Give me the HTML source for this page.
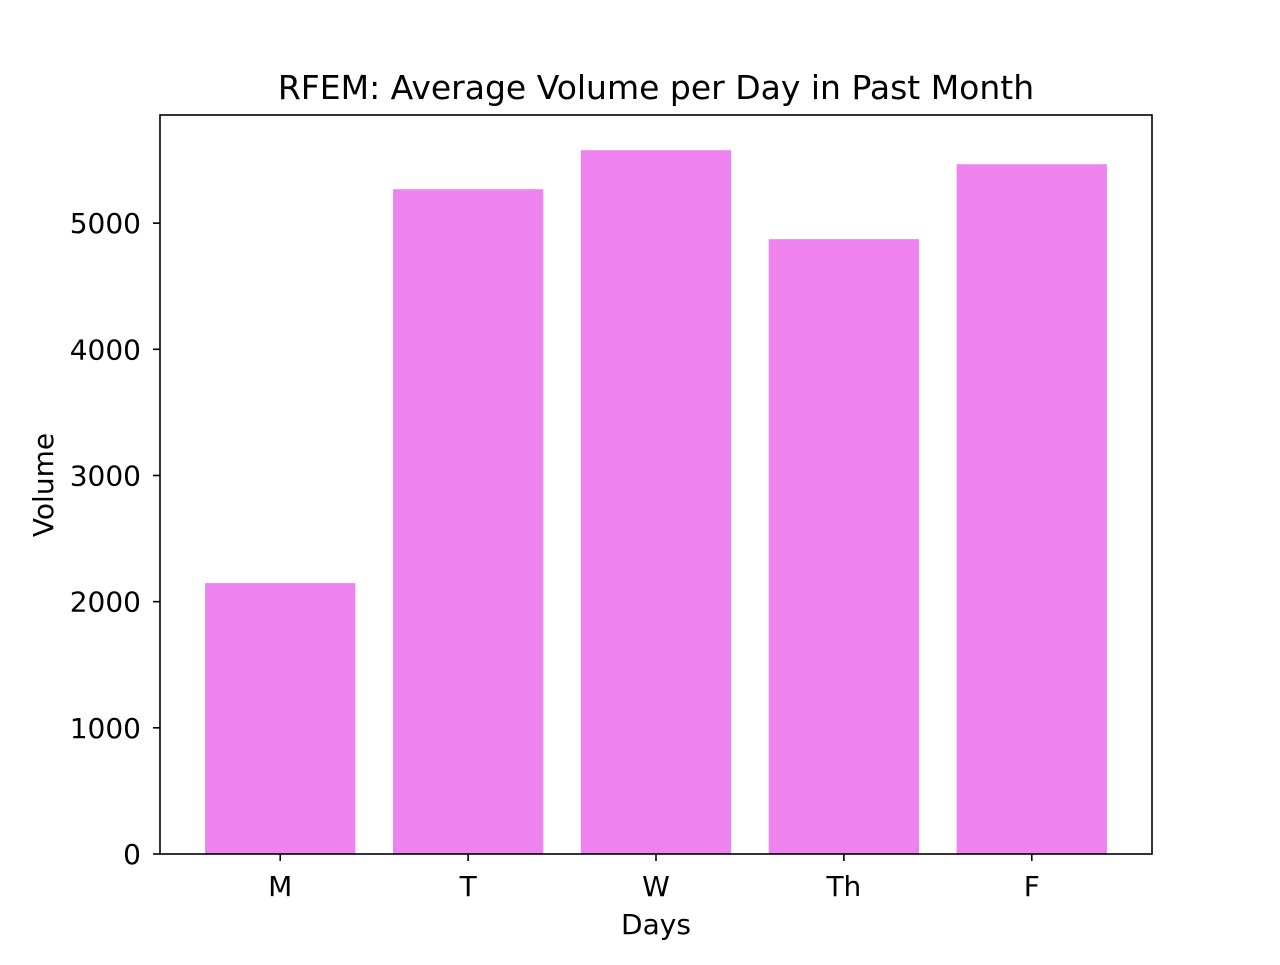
<!DOCTYPE html>
<html><head><meta charset="utf-8"><style>
body{margin:0;background:#fff;}
svg text{font-family:"DejaVu Sans","Liberation Sans",sans-serif;fill:#000;}
</style></head><body>
<svg id="chart" width="1280" height="960" viewBox="0 0 1280 960">
<rect width="1280" height="960" fill="#fff"/>
<text x="656" y="99" font-size="33" text-anchor="middle">RFEM: Average Volume per Day in Past Month</text>
<g id="bars"></g>
<g id="yticks"></g>
<g id="xticks"></g>
<rect x="160" y="115" width="992" height="739" fill="none" stroke="#000" stroke-width="1.6"/>
<text x="656" y="934" font-size="28" text-anchor="middle">Days</text>
<text x="0" y="0" font-size="28" text-anchor="middle" transform="translate(53,485) rotate(-90)">Volume</text>
</svg>
<script>
const categories = ["M","T","W","Th","F"];
const values = [2147, 5269, 5578, 4873, 5467];
const yTicks = [0,1000,2000,3000,4000,5000];
const NS="http://www.w3.org/2000/svg";
const L=160,R=1152,T=115,B=854;
const xmin=-0.64,xmax=4.64,ymin=0,ymax=5857;
const xs=v=>L+(v-xmin)/(xmax-xmin)*(R-L);
const ys=v=>B-(v-ymin)/(ymax-ymin)*(B-T);
const bars=document.getElementById('bars'),yt=document.getElementById('yticks'),xt=document.getElementById('xticks');
function mk(t,a){const e=document.createElementNS(NS,t);for(const k in a)e.setAttribute(k,a[k]);return e;}
categories.forEach((c,i)=>{
  const x0=xs(i-0.4),x1=xs(i+0.4),y=ys(values[i]);
  const r=mk('rect',{x:x0,y:y,width:x1-x0,height:B-y,fill:'#EE82EE'});
  
  
  bars.appendChild(r);
  const l=mk('line',{x1:xs(i),x2:xs(i),y1:B,y2:B+7,stroke:'#000','stroke-width':1.6});
  
  
  xt.appendChild(l);
  const t=mk('text',{x:xs(i),y:B+42,'font-size':28,'text-anchor':'middle'});
  t.textContent=c;
  
  
  xt.appendChild(t);
});
yTicks.forEach(v=>{
  const y=ys(v);
  const l=mk('line',{x1:L-7,x2:L,y1:y,y2:y,stroke:'#000','stroke-width':1.6});
  
  
  yt.appendChild(l);
  const t=mk('text',{x:L-19,y:y+10,'font-size':28,'text-anchor':'end'});
  t.textContent=v;
  
  
  yt.appendChild(t);
});
</script>
</body></html>
